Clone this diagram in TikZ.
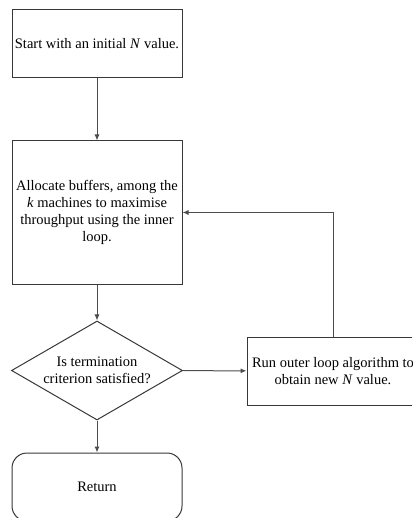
\documentclass[tikz,border=0pt]{standalone}
\usepackage{fontspec}
\setmainfont{Liberation Serif}
\usetikzlibrary{shapes.geometric,arrows.meta}
\begin{document}
\begin{tikzpicture}[x=1pt,y=-1pt,
  txt/.style={align=center,inner sep=0pt,font=\fontsize{14.5}{17}\selectfont},
  box/.style={txt,draw=black!78,line width=1pt,minimum width=170pt,minimum height=68pt},
  decision/.style={txt,diamond,aspect=1.73,inner sep=-4pt,draw=black!78,line width=1pt,minimum width=171pt,minimum height=99pt},
  link/.style={draw=black!70,line width=1pt,-{Latex[length=6pt,width=5pt]}}]
  \useasboundingbox (0,0) rectangle (412,518);
  \clip (0,0) rectangle (412,518);
  \node[box] (start) at (97,44) {Start with an initial \textit{N} value.};
  \node[box,minimum height=143pt] (alloc) at (97,212.5) {Allocate buffers, among the\\\textit{k} machines to maximise\\throughput using the inner\\loop.};
  \node[decision] (check) at (97,370.5) {Is termination\\criterion satisfied?};
  \node[box,minimum width=172pt] (outer) at (333,371) {Run outer loop algorithm to\\obtain new \textit{N} value.};
  \node[box,rounded corners=15pt] (ret) at (97,487) {Return};
  \draw[link] (start) -- (alloc);
  \draw[link] (alloc) -- (check);
  \draw[link] (check) -- (outer);
  \draw[link] (outer.north) |- (alloc.east);
  \draw[link] (check) -- (ret);
\end{tikzpicture}
\end{document}
